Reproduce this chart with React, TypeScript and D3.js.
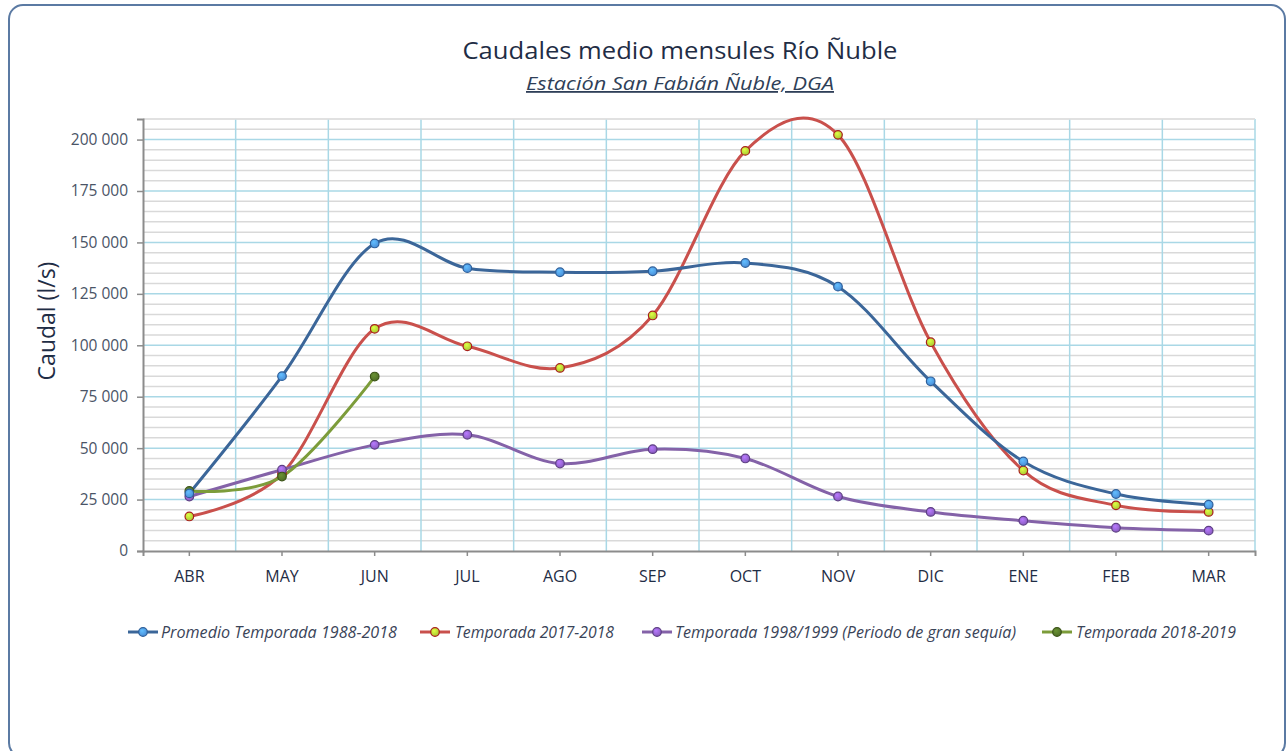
import React, { useRef, useEffect } from 'react';
import * as d3 from 'd3';

// months of the hydrological season
const months = ['ABR', 'MAY', 'JUN', 'JUL', 'AGO', 'SEP', 'OCT', 'NOV', 'DIC', 'ENE', 'FEB', 'MAR'];

// caudal values (l/s)
const promedio = [28000, 85000, 149500, 137500, 135500, 136000, 140000, 128500, 82500, 43500, 27700, 22500];
const temporada1718 = [16800, 37500, 108000, 99500, 89000, 114500, 194500, 202300, 101500, 39100, 22200, 19000];
const temporada9899 = [26500, 39500, 51600, 56500, 42500, 49500, 45000, 26500, 19000, 14700, 11300, 9900];
const temporada1819 = [29200, 36200, 84800];

const seriesNames = [
  'Promedio Temporada 1988-2018',
  'Temporada 2017-2018',
  'Temporada 1998/1999 (Periodo de gran sequía)',
  'Temporada 2018-2019'
];

const yTicks = [0, 25000, 50000, 75000, 100000, 125000, 150000, 175000, 200000];

const App = () => {
  const svgRef = useRef<SVGSVGElement>(null);

  useEffect(() => {
    const svg = d3.select(svgRef.current);
    svg.selectAll('*').remove();

    const W = 1288, H = 751;
    const margin = { top: 119, right: 33, bottom: 200, left: 143 };
    const plotW = W - margin.left - margin.right;
    const plotH = H - margin.top - margin.bottom;

    const font = "'Open Sans', 'Noto Sans', sans-serif";
    const dark = '#1f2d45';

    const defs = svg.append('defs');

    // outer rounded frame
    svg.append('rect')
      .attr('x', 9).attr('y', 5)
      .attr('width', 1276).attr('height', 752)
      .attr('rx', 14)
      .attr('fill', '#ffffff')
      .attr('stroke', '#5b7aa3')
      .attr('stroke-width', 2);

    // title + subtitle
    svg.append('text')
      .attr('x', 680).attr('y', 59)
      .attr('text-anchor', 'middle')
      .style('font-family', font)
      .style('font-size', '24px')
      .attr('fill', dark)
      .attr('textLength', 435)
      .attr('lengthAdjust', 'spacingAndGlyphs')
      .text('Caudales medio mensules Río Ñuble');

    svg.append('text')
      .attr('x', 680).attr('y', 90)
      .attr('text-anchor', 'middle')
      .style('font-family', font)
      .style('font-size', '18px')
      .style('font-style', 'italic')
      .style('text-decoration', 'underline')
      .attr('fill', '#2f3f58')
      .attr('textLength', 308)
      .attr('lengthAdjust', 'spacingAndGlyphs')
      .text('Estación San Fabián Ñuble, DGA');

    const g = svg.append('g').attr('transform', `translate(${margin.left},${margin.top})`);

    const x = d3.scaleBand<string>().domain(months).range([0, plotW]);
    const y = d3.scaleLinear().domain([0, 210000]).range([plotH, 0]);
    const cx = (m: string) => (x(m) as number) + x.bandwidth() / 2;

    // minor horizontal grid (every 5 000)
    const minor = d3.range(5000, 210001, 5000).filter(v => v % 25000 !== 0);
    g.selectAll('.minor').data(minor).enter().append('line')
      .attr('x1', 0).attr('x2', plotW)
      .attr('y1', d => y(d)).attr('y2', d => y(d))
      .attr('stroke', '#d9d9d9').attr('stroke-width', 1.5);

    // major horizontal grid
    g.selectAll('.major').data(yTicks.filter(v => v > 0)).enter().append('line')
      .attr('x1', 0).attr('x2', plotW)
      .attr('y1', d => y(d)).attr('y2', d => y(d))
      .attr('stroke', '#a9d8e6').attr('stroke-width', 1.5);

    // vertical grid at category boundaries
    g.selectAll('.vgrid').data(months.slice(1).concat(['end'])).enter().append('line')
      .attr('x1', (d, i) => x.step() * (i + 1)).attr('x2', (d, i) => x.step() * (i + 1))
      .attr('y1', 0).attr('y2', plotH)
      .attr('stroke', '#a9d8e6').attr('stroke-width', 1.5);

    // top edge of plot area
    g.append('line').attr('x1', 0).attr('x2', plotW).attr('y1', 0).attr('y2', 0)
      .attr('stroke', '#e0e0e0').attr('stroke-width', 1.5);

    // axes
    const locale = d3.formatLocale({ decimal: ',', thousands: ' ', grouping: [3], currency: ['', ''] });
    const fmt = locale.format(',');

    const yAxis = g.append('g')
      .call(d3.axisLeft(y).tickValues(yTicks).tickSize(6).tickPadding(9).tickFormat(d => fmt(d as number)));
    yAxis.select('.domain').attr('stroke', '#8c8c8c').attr('stroke-width', 2);
    yAxis.selectAll('.tick line').attr('stroke', '#8c8c8c').attr('stroke-width', 1.5);
    yAxis.selectAll('.tick text')
      .style('font-family', font).style('font-size', '15.5px').attr('fill', '#4a5466');

    const xAxis = g.append('g')
      .attr('transform', `translate(0,${plotH})`)
      .call(d3.axisBottom(x).tickSize(5).tickSizeOuter(5).tickPadding(15));
    xAxis.select('.domain').attr('stroke', '#8c8c8c').attr('stroke-width', 2);
    xAxis.selectAll('.tick line').attr('stroke', '#8c8c8c').attr('stroke-width', 1.5);
    xAxis.selectAll('.tick text')
      .style('font-family', font).style('font-size', '16px').attr('fill', dark);

    // y axis title
    svg.append('text')
      .attr('transform', `translate(55,${321}) rotate(-90)`)
      .attr('text-anchor', 'middle')
      .style('font-family', font)
      .style('font-size', '23px')
      .attr('fill', dark)
      .text('Caudal (l/s)');

    // series
    const series = [
      { name: seriesNames[0], values: promedio, line: '#3b6699', fill: '#4a8fd8', stroke: '#2e5f9a' },
      { name: seriesNames[1], values: temporada1718, line: '#c9504c', fill: '#a8c832', stroke: '#a8201c' },
      { name: seriesNames[2], values: temporada9899, line: '#8462a8', fill: '#8a5cc0', stroke: '#5e3f85' },
      { name: seriesNames[3], values: temporada1819, line: '#7c9c3a', fill: '#4f6e26', stroke: '#3c5418' }
    ];

    series.forEach((s, i) => {
      const grad = defs.append('radialGradient')
        .attr('id', `mk${i}`).attr('cx', '40%').attr('cy', '35%').attr('r', '65%');
      grad.append('stop').attr('offset', '0%').attr('stop-color', d3.color(s.fill)!.brighter(0.8).toString());
      grad.append('stop').attr('offset', '100%').attr('stop-color', s.fill);
    });

    const line = d3.line<number>()
      .x((d, i) => cx(months[i]))
      .y(d => y(d))
      .curve(d3.curveCardinal.tension(0));

    // draw order: promedio on top
    [1, 2, 3, 0].forEach(i => {
      const s = series[i];
      g.append('path')
        .datum(s.values)
        .attr('d', line)
        .attr('fill', 'none')
        .attr('stroke', s.line)
        .attr('stroke-width', 3)
        .attr('stroke-linecap', 'round');
    });

    [1, 2, 3, 0].forEach(i => {
      const s = series[i];
      g.selectAll(`.dot${i}`).data(s.values).enter().append('circle')
        .attr('cx', (d, j) => cx(months[j]))
        .attr('cy', d => y(d))
        .attr('r', 4.3)
        .attr('fill', `url(#mk${i})`)
        .attr('stroke', s.stroke)
        .attr('stroke-width', 1.2);
    });

    // legend
    const legendItems = [
      { x: 128, tx: 161, tl: 236 },
      { x: 420, tx: 455, tl: 159 },
      { x: 642, tx: 675, tl: 341 },
      { x: 1042, tx: 1076, tl: 160 }
    ];
    const legY = 632;
    series.forEach((s, i) => {
      const it = legendItems[i];
      const lg = svg.append('g');
      lg.append('line').attr('x1', it.x).attr('x2', it.x + 30).attr('y1', legY).attr('y2', legY)
        .attr('stroke', s.line).attr('stroke-width', 3);
      lg.append('circle').attr('cx', it.x + 15).attr('cy', legY).attr('r', 4.3)
        .attr('fill', `url(#mk${i})`).attr('stroke', s.stroke).attr('stroke-width', 1.2);
      lg.append('text')
        .attr('x', it.tx).attr('y', legY + 6)
        .style('font-family', font)
        .style('font-size', '16px')
        .style('font-style', 'italic')
        .attr('fill', '#3a4458')
        .attr('textLength', it.tl)
        .attr('lengthAdjust', 'spacingAndGlyphs')
        .text(s.name);
    });
  }, []);

  return (
    <svg
      ref={svgRef}
      width={1288}
      height={751}
      style={{ position: 'absolute', left: 0, top: 0, background: '#ffffff' }}
    ></svg>
  );
};

export default App;
